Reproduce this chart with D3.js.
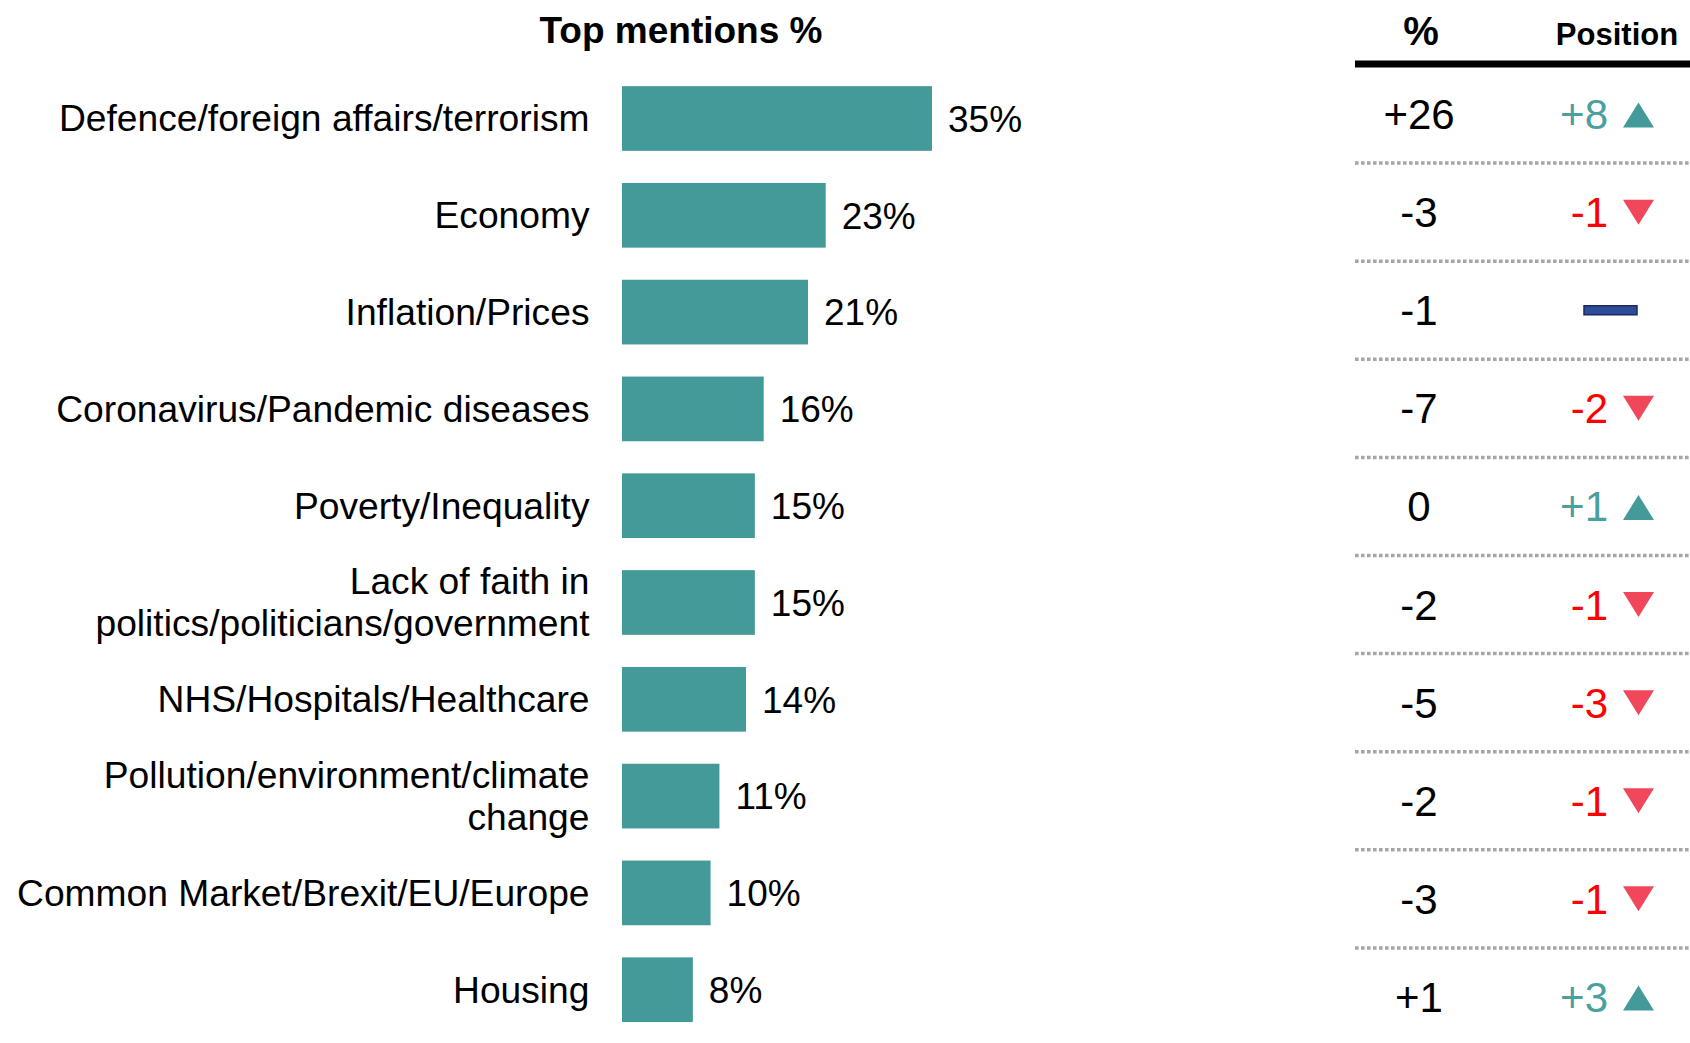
<!DOCTYPE html>
<html>
<head>
<meta charset="utf-8">
<script src="https://cdn.jsdelivr.net/npm/d3@7"></script>
<style>
  html, body { margin: 0; padding: 0; background: #fff; }
  svg { display: block; font-family: "Liberation Sans", Arial, sans-serif; }
</style>
</head>
<body>
<svg id="chart" width="1690" height="1043"></svg>
<script>
// ---- data ----
const categories = [
  "Defence/foreign affairs/terrorism",
  "Economy",
  "Inflation/Prices",
  "Coronavirus/Pandemic diseases",
  "Poverty/Inequality",
  "Lack of faith in\npolitics/politicians/government",
  "NHS/Hospitals/Healthcare",
  "Pollution/environment/climate\nchange",
  "Common Market/Brexit/EU/Europe",
  "Housing"
];
const topMentions = [35, 23, 21, 16, 15, 15, 14, 11, 10, 8];
const pctChange = [26, -3, -1, -7, 0, -2, -5, -2, -3, 1];
const positionChange = [8, -1, 0, -2, 1, -1, -3, -1, -1, 3];
const titleText = "Top mentions %";
const pctHeader = "%";
const positionHeader = "Position";

// ---- layout ----
const svg = d3.select("#chart");
const teal = "#449a98";
const tealText = "#4aa09d";
const redText = "#ff0000";
const redTri = "#f0475a";

const x = d3.scaleLinear().domain([0, 35]).range([622, 932]);
const y = d3.scaleBand().domain(d3.range(categories.length))
  .range([70.1, 1038.1]).paddingInner(0.3316).paddingOuter(0.1658);
const yt = d3.scaleBand().domain(d3.range(categories.length)).range([65, 1046]);

const signed = v => v > 0 ? "+" + v : (v < 0 ? "-" + Math.abs(v) : "0");

// title
svg.append("text")
  .attr("x", 681).attr("y", 43)
  .attr("text-anchor", "middle")
  .attr("font-size", 37).attr("font-weight", "bold")
  .text(titleText);

// bars
svg.selectAll("rect.bar").data(topMentions).join("rect")
  .attr("class", "bar")
  .attr("x", x(0))
  .attr("y", (d, i) => y(i))
  .attr("width", d => x(d) - x(0))
  .attr("height", y.bandwidth())
  .attr("fill", teal);

// value labels
svg.selectAll("text.val").data(topMentions).join("text")
  .attr("class", "val")
  .attr("x", d => x(d) + 16)
  .attr("y", (d, i) => y(i) + y.bandwidth() / 2)
  .attr("dy", "0.358em")
  .attr("font-size", 37)
  .text(d => d + "%");

// category labels
categories.forEach((c, i) => {
  const lines = c.split("\n");
  const cy = y(i) + y.bandwidth() / 2;
  const lh = 42;
  const t = svg.append("text")
    .attr("text-anchor", "end")
    .attr("font-size", 37.2);
  lines.forEach((ln, j) => {
    t.append("tspan")
      .attr("x", 589.5)
      .attr("y", cy + (j - (lines.length - 1) / 2) * lh - 0.5)
      .attr("dy", "0.358em")
      .text(ln);
  });
});

// table header
svg.append("text")
  .attr("x", 1421).attr("y", 45)
  .attr("text-anchor", "middle")
  .attr("font-size", 40).attr("font-weight", "bold")
  .text(pctHeader);
svg.append("text")
  .attr("x", 1617).attr("y", 45)
  .attr("text-anchor", "middle")
  .attr("font-size", 31).attr("font-weight", "bold")
  .text(positionHeader);
svg.append("line")
  .attr("x1", 1355).attr("x2", 1690)
  .attr("y1", 64).attr("y2", 64)
  .attr("stroke", "#000").attr("stroke-width", 7);

// dotted separators
svg.selectAll("line.sep").data(d3.range(1, categories.length)).join("line")
  .attr("class", "sep")
  .attr("x1", 1355).attr("x2", 1690)
  .attr("y1", d => yt(d)).attr("y2", d => yt(d))
  .attr("stroke", "#a6a6a6").attr("stroke-width", 3.5)
  .attr("stroke-dasharray", "3.6,2.4");

const rowC = i => yt(i) + yt.bandwidth() / 2;

// % change column
svg.selectAll("text.pct").data(pctChange).join("text")
  .attr("class", "pct")
  .attr("x", 1419)
  .attr("y", (d, i) => rowC(i))
  .attr("dy", "0.358em")
  .attr("text-anchor", "middle")
  .attr("font-size", 42)
  .attr("fill", "#000")
  .text(d => signed(d));

// position column
const posData = positionChange.map((v, i) => ({v, i}));
svg.selectAll("text.pos").data(posData.filter(d => d.v !== 0)).join("text")
  .attr("class", "pos")
  .attr("x", 1608)
  .attr("y", d => rowC(d.i))
  .attr("dy", "0.358em")
  .attr("text-anchor", "end")
  .attr("font-size", 42)
  .attr("fill", d => d.v > 0 ? tealText : redText)
  .text(d => signed(d.v));

const triCx = 1638.5, triW = 31, triH = 25;
svg.selectAll("path.tri").data(posData.filter(d => d.v !== 0)).join("path")
  .attr("class", "tri")
  .attr("d", d => {
    const c = rowC(d.i);
    if (d.v > 0) {
      return `M${triCx - triW / 2},${c + triH / 2 + 1}L${triCx + triW / 2},${c + triH / 2 + 1}L${triCx},${c - triH / 2 + 1}Z`;
    }
    return `M${triCx - triW / 2},${c - triH / 2}L${triCx + triW / 2},${c - triH / 2}L${triCx},${c + triH / 2}Z`;
  })
  .attr("fill", d => d.v > 0 ? teal : redTri);

// no-change dash
svg.selectAll("rect.dash").data(posData.filter(d => d.v === 0)).join("rect")
  .attr("class", "dash")
  .attr("x", 1584).attr("width", 53)
  .attr("y", d => rowC(d.i) - 4.5).attr("height", 9)
  .attr("fill", "#2e4c9c").attr("stroke", "#1b2a5e").attr("stroke-width", 1.5);
</script>
</body>
</html>
